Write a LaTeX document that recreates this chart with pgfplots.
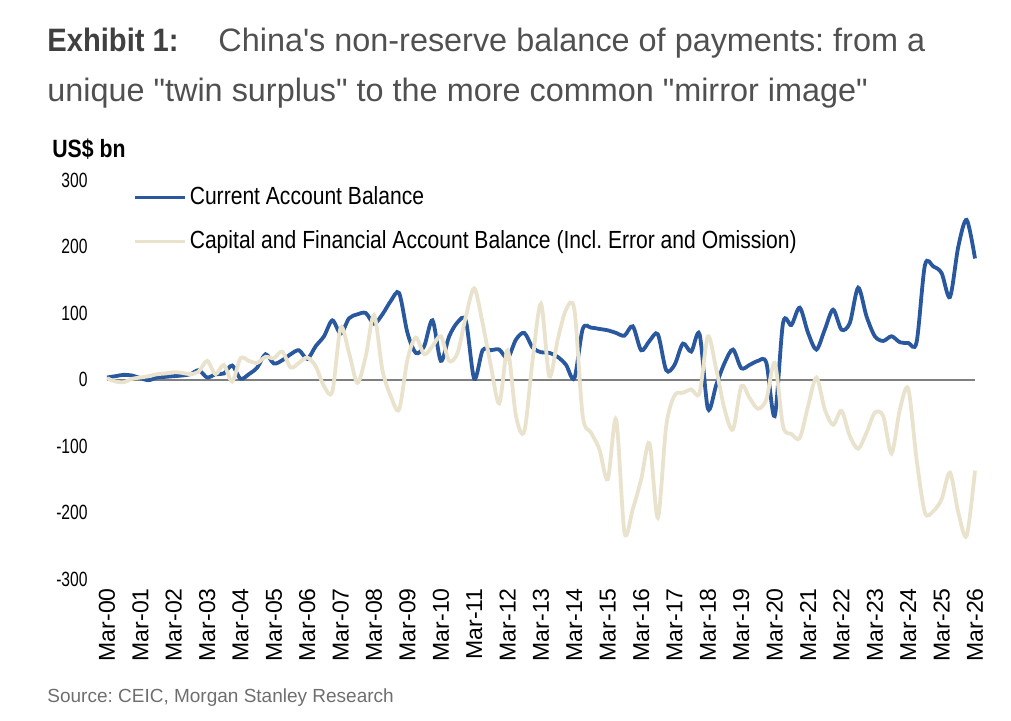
\documentclass[border=0pt]{standalone}
\usepackage{pgfplots}
\pgfplotsset{compat=1.18}
\usepackage{fontspec}
\setmainfont{Liberation Sans}
\newfontfamily\cond[FakeStretch=0.85]{Liberation Sans}
\newfontfamily\condt[FakeStretch=0.76]{Liberation Sans}
\newfontfamily\condb[FakeStretch=0.9]{Liberation Sans}
\definecolor{cablue}{RGB}{41,88,158}
\definecolor{kabeige}{RGB}{233,226,204}
\definecolor{zerogray}{RGB}{128,128,128}
\definecolor{titledark}{RGB}{64,64,64}
\definecolor{titlegray}{RGB}{80,80,80}
\definecolor{sourcegray}{RGB}{110,110,110}
\frenchspacing
\begin{document}
\begin{tikzpicture}
\path[use as bounding box] (0,0) rectangle (505.5pt,360.5pt);
\begin{axis}[
  at={(53.5pt,71pt)}, anchor=south west,
  scale only axis, width=434pt, height=199.5pt,
  xmin=0, xmax=104, ymin=-300, ymax=300,
  axis line style={draw=none},
  major tick length=0pt, tick style={draw=none},
  ytick={-300,-200,-100,0,100,200,300},
  yticklabels={-300,-200,-100,0,100,200,300},
  xtick={0,4,...,104},
  xticklabels={Mar-00,Mar-01,Mar-02,Mar-03,Mar-04,Mar-05,Mar-06,Mar-07,Mar-08,Mar-09,Mar-10,Mar-11,Mar-12,Mar-13,Mar-14,Mar-15,Mar-16,Mar-17,Mar-18,Mar-19,Mar-20,Mar-21,Mar-22,Mar-23,Mar-24,Mar-25,Mar-26},
  yticklabel style={font=\condt\fontsize{10.3}{10}\selectfont, anchor=east, inner xsep=9.5pt, inner ysep=0pt},
  xticklabel style={font=\fontsize{11.5}{11}\selectfont, rotate=90, anchor=east, inner xsep=4.5pt, inner ysep=0pt},
  clip=false,
  legend cell align=left,
  legend image code/.code={\draw[#1] (0pt,0pt) -- (25pt,0pt);},
  legend style={at={(0,1)}, anchor=north west, xshift=13pt, yshift=-3.5pt,
    draw=none, fill=none, inner sep=0pt, outer sep=0pt,
    row sep=11.5pt, column sep=1.5pt,
    nodes={inner sep=0pt},
    font=\cond\fontsize{12.4}{13}\selectfont},
]
\addplot[zerogray, line width=1pt, forget plot] coordinates {(0,0) (104,0)};
\addplot[cablue, line width=1.9pt, smooth, tension=0.5] table {
x y
0 3
1 5
2 7
3 6
4 2
5 -1
6 3
7 4
8 5
9 6
10 8
11 14
12 3
13 8
14 9
15 21
16 1
17 8
18 18
19 38
20 24
21 29
22 38
23 44
24 31
25 50
26 65
27 89
28 69
29 92
30 98
31 100
32 84
33 98
34 118
35 130
36 70
37 40
38 50
39 89
40 28
41 65
42 86
43 88
44 1
45 44
46 44
47 45
48 32
49 60
50 70
51 48
52 41
53 40
54 34
55 22
56 2
57 76
58 78
59 76
60 74
61 70
62 66
63 80
64 44
65 58
66 68
67 14
68 22
69 54
70 42
71 68
72 -44
73 -8
74 25
75 45
76 17
77 22
78 28
79 25
80 -55
81 85
82 82
83 108
84 70
85 45
86 75
87 105
88 75
89 85
90 138
91 95
92 65
93 58
94 65
95 56
96 55
97 56
98 172
99 170
100 160
101 124
102 200
103 240
104 182
};
\addlegendentry{Current Account Balance}
\addplot[kabeige, line width=1.9pt, smooth, tension=0.5] table {
x y
0 2
1 -3
2 -4
3 1
4 3
5 5
6 8
7 9
8 11
9 10
10 8
11 12
12 28
13 8
14 22
15 -3
16 32
17 28
18 25
19 34
20 32
21 42
22 18
23 25
24 33
25 20
26 -10
27 -18
28 78
29 40
30 -5
31 35
32 97
33 14
34 -25
35 -45
36 30
37 63
38 38
39 50
40 65
41 28
42 40
43 95
44 137
45 85
46 20
47 -36
48 44
49 -55
50 -78
51 30
52 114
53 5
54 60
55 105
56 105
57 -55
58 -80
59 -105
60 -150
61 -60
62 -230
63 -195
64 -150
65 -96
66 -208
67 -70
68 -24
69 -20
70 -15
71 -20
72 65
73 15
74 -45
75 -75
76 -10
77 -28
78 -44
79 -30
80 25
81 -70
82 -82
83 -88
84 -40
85 3
86 -45
87 -68
88 -47
89 -85
90 -104
91 -80
92 -50
93 -55
94 -111
95 -45
96 -14
97 -120
98 -200
99 -198
100 -180
101 -140
102 -200
103 -235
104 -137
};
\addlegendentry{Capital and Financial Account Balance (Incl. Error and Omission)}
\end{axis}
\node[anchor=base west, inner sep=0pt, text=titledark, font=\condb\bfseries\fontsize{16.2}{18}\selectfont] at (23.5pt,334.5pt) {Exhibit 1:};
\node[anchor=base west, inner sep=0pt, text=titlegray, font=\fontsize{16.2}{18}\selectfont] at (109pt,334.5pt) {China\textquotesingle s non-reserve balance of payments: from a};
\node[anchor=base west, inner sep=0pt, text=titlegray, font=\fontsize{16.2}{18}\selectfont] at (23.5pt,309.5pt) {unique \textquotedbl twin surplus\textquotedbl{} to the more common \textquotedbl mirror image\textquotedbl};
\node[anchor=base west, inner sep=0pt, text=black, font=\cond\bfseries\fontsize{12.5}{13}\selectfont] at (26pt,281.5pt) {US\$ bn};
\node[anchor=base west, inner sep=0pt, text=sourcegray, font=\fontsize{9.5}{11}\selectfont] at (23.5pt,9pt) {Source: CEIC, Morgan Stanley Research};
\end{tikzpicture}
\end{document}
